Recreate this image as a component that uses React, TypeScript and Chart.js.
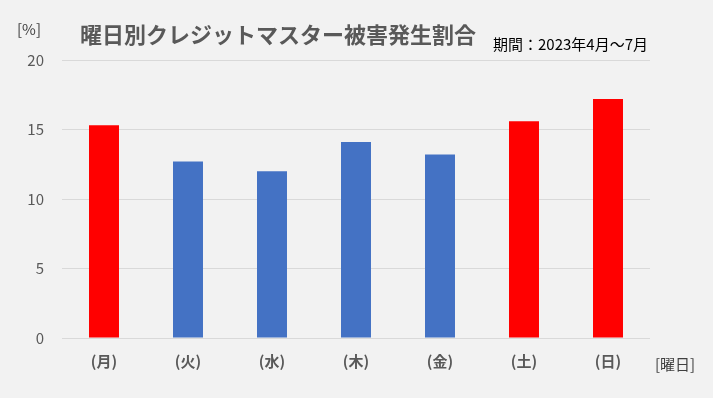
import React, { useEffect, useRef } from "react";
import { Chart, registerables } from "chart.js";

Chart.register(...registerables);

const categories = ["(月)", "(火)", "(水)", "(木)", "(金)", "(土)", "(日)"];
const values = [15.3, 12.7, 12.0, 14.1, 13.2, 15.6, 17.2];
const barColors = ["#ff0000", "#4472c4", "#4472c4", "#4472c4", "#4472c4", "#ff0000", "#ff0000"];
const yTicks = [0, 5, 10, 15, 20];
const titleText = "曜日別クレジットマスター被害発生割合";
const periodText = "期間：2023年4月～7月";
const yUnit = "[%]";
const xUnit = "[曜日]";

const FONT = "'Noto Sans CJK JP', 'Noto Sans', sans-serif";

const textPlugin = {
  id: "texts",
  afterDraw(chart: any) {
    const ctx = chart.ctx;
    ctx.save();
    ctx.textBaseline = "middle";
    ctx.textAlign = "left";
    ctx.fillStyle = "#595959";
    ctx.font = `bold 22px ${FONT}`;
    ctx.fillText(titleText, 80, 35);
    ctx.fillStyle = "#000000";
    ctx.font = `15px ${FONT}`;
    ctx.fillText(periodText, 493, 44);
    ctx.fillStyle = "#404040";
    ctx.font = `15px ${FONT}`;
    ctx.fillText(yUnit, 17, 29);
    ctx.fillText(xUnit, 655, 364);
    ctx.restore();
  },
};

export default function App() {
  const ref = useRef<HTMLCanvasElement>(null);
  useEffect(() => {
    if (!ref.current) return;
    const chart = new Chart(ref.current, {
      type: "bar",
      data: {
        labels: categories,
        datasets: [
          {
            data: values,
            backgroundColor: barColors,
            barPercentage: 0.357,
            categoryPercentage: 1,
          },
        ],
      },
      options: {
        animation: false,
        responsive: true,
        maintainAspectRatio: false,
        layout: { padding: { left: 0, right: 63, top: 60, bottom: 0 } },
        plugins: { legend: { display: false }, tooltip: { enabled: false } },
        scales: {
          x: {
            grid: { display: false },
            border: { display: false },
            ticks: {
              color: "#595959",
              font: { family: FONT, size: 15, weight: "bold" },
              padding: 6,
            },
            afterFit(scale: any) {
              scale.height = 60;
            },
          },
          y: {
            min: 0,
            max: 20,
            afterBuildTicks(scale: any) {
              scale.ticks = yTicks.map((v) => ({ value: v }));
            },
            grid: { color: "#d9d9d9", drawTicks: false, lineWidth: 1 },
            border: { display: false },
            ticks: {
              color: "#595959",
              font: { family: FONT, size: 15 },
              padding: 18,
            },
            afterFit(scale: any) {
              scale.width = 62;
            },
          },
        },
      },
      plugins: [textPlugin],
    });
    return () => chart.destroy();
  }, []);
  return (
    <div
      style={{
        position: "absolute",
        left: 0,
        top: 0,
        width: 713,
        height: 398,
        background: "#f2f2f2",
      }}
    >
      <canvas ref={ref} />
    </div>
  );
}
